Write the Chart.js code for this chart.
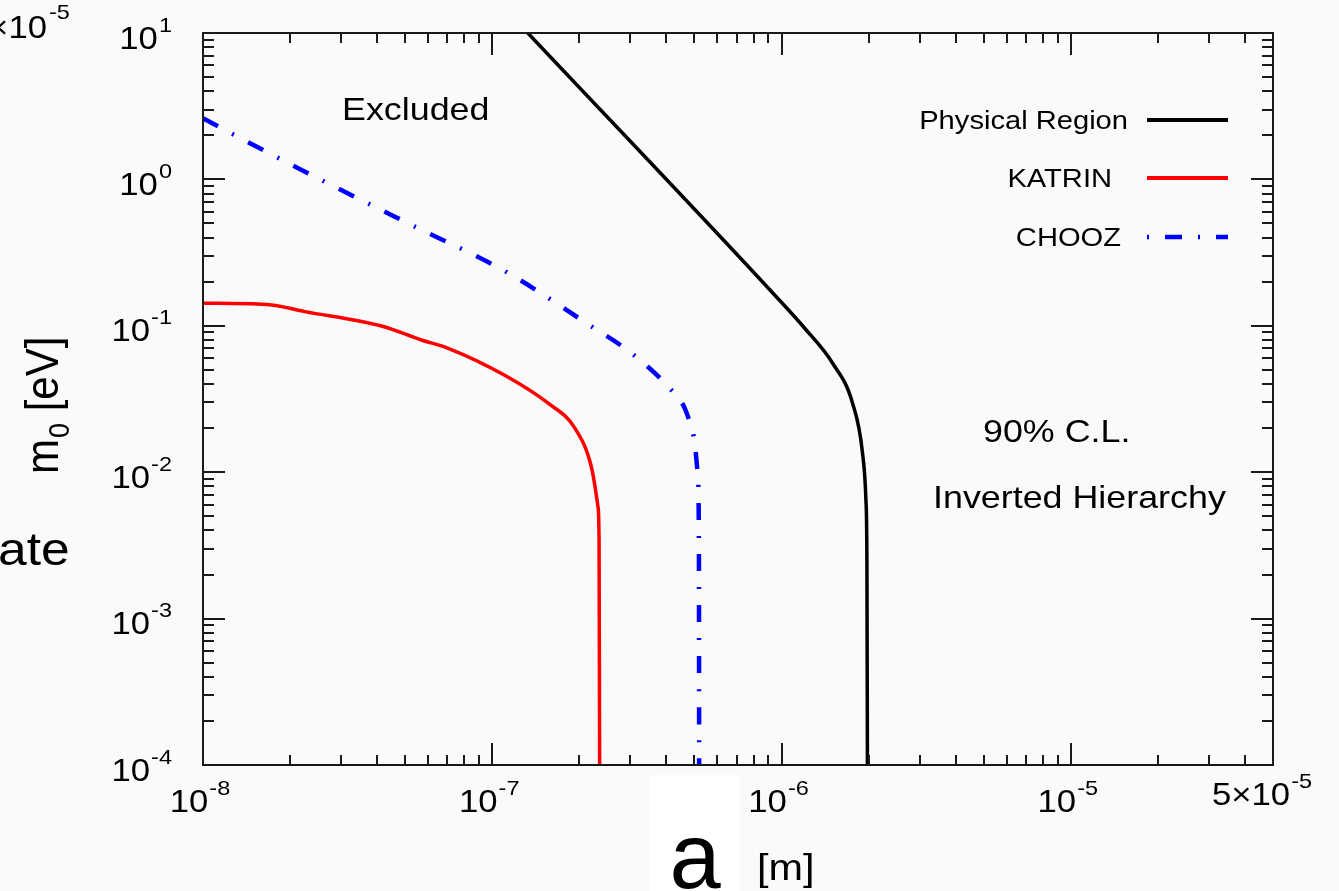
<!DOCTYPE html>
<html>
<head>
<meta charset="utf-8">
<script src="https://cdn.jsdelivr.net/npm/chart.js@4.4.1/dist/chart.umd.min.js"></script>
<style>
  html, body { margin: 0; padding: 0; background: #fafafa; }
  #wrap { position: relative; width: 1339px; height: 891px; overflow: hidden; }
</style>
</head>
<body>
<div id="wrap"><canvas id="limitChart" width="1339" height="891"></canvas></div>
<script>
// Physical region boundary (a [m], m0 [eV])
const physX = [1.327e-7, 9.535e-7, 1.20e-6, 1.50e-6, 1.759e-6, 1.905e-6, 1.9575e-6, 1.973e-6, 1.981e-6];
const physY = [10, 0.1598, 0.0966, 0.0557, 0.0297, 0.01352, 0.00646, 0.002514, 1e-4];

// KATRIN sensitivity
const katrinX = [1e-8, 1.66e-8, 2.25e-8, 4.14e-8, 5.69e-8, 7.04e-8, 1.10e-7, 1.56e-7, 1.93e-7, 2.20e-7, 2.32e-7, 2.34e-7, 2.35e-7];
const katrinY = [0.1425, 0.140, 0.125, 0.0997, 0.080, 0.0702, 0.0461, 0.0296, 0.0200, 0.0109, 0.0058, 0.00344, 1e-4];

// CHOOZ limit
const choozX = [1e-8, 1.22e-8, 2.54e-8, 5.26e-8, 1.09e-7, 2.17e-7, 3.03e-7, 4.16e-7, 4.63e-7, 4.94e-7, 5.14e-7, 5.18e-7, 5.19e-7];
const choozY = [2.62, 2.12, 1.0, 0.488, 0.240, 0.101, 0.0649, 0.0364, 0.0273, 0.01844, 0.0093, 0.00294, 1e-4];

// axis ticks
const xTickValues = [1e-8, 1e-7, 1e-6, 1e-5, 5e-5];
const xTickLabels = [['10', '-8'], ['10', '-7'], ['10', '-6'], ['10', '-5'], ['5\u00d710', '-5']];
const yTickValues = [1e1, 1e0, 1e-1, 1e-2, 1e-3, 1e-4];
const yTickLabels = [['10', '1'], ['10', '0'], ['10', '-1'], ['10', '-2'], ['10', '-3'], ['10', '-4']];

const seriesNames = ['Physical Region', 'KATRIN', 'CHOOZ'];
const seriesColors = ['#000000', '#ff0000', '#0000ff'];

const FONT = '"Liberation Sans", Arial, Helvetica, sans-serif';
const SX = 1.12; // the figure is stretched horizontally

function toPoints(xs, ys) {
    return xs.map((x, i) => ({ x: x, y: ys[i] }));
}

function measure(ctx, s, size) {
    ctx.save();
    ctx.font = size + 'px ' + FONT;
    const w = ctx.measureText(s).width * SX;
    ctx.restore();
    return w;
}

function text(ctx, s, x, y, size, align) {
    ctx.save();
    ctx.font = size + 'px ' + FONT;
    ctx.fillStyle = '#000';
    ctx.textAlign = align || 'left';
    ctx.textBaseline = 'alphabetic';
    ctx.translate(x, y);
    ctx.scale(SX, 1);
    ctx.fillText(s, 0, 0);
    ctx.restore();
}

// base + superscript, anchored by align at x
function powText(ctx, base, exp, x, y, align) {
    const wb = measure(ctx, base, 31);
    const we = measure(ctx, exp, 21);
    const total = wb + 1 + we;
    let x0 = x;
    if (align === 'center') x0 = x - total / 2;
    if (align === 'right') x0 = x - total;
    text(ctx, base, x0, y, 31, 'left');
    text(ctx, exp, x0 + wb + 1, y - 17, 21, 'left');
}

function minorValues(min, max) {
    const out = [];
    for (let e = Math.floor(Math.log10(min)); e <= Math.ceil(Math.log10(max)); e++) {
        for (let m = 1; m <= 9; m++) {
            const v = m * Math.pow(10, e);
            if (v >= min * 0.999 && v <= max * 1.001) out.push({ v: v, major: m === 1 });
        }
    }
    return out;
}

const framePlugin = {
    id: 'framePlugin',
    beforeDraw(chart) {
        const ctx = chart.ctx;
        ctx.save();
        ctx.fillStyle = '#fafafa';
        ctx.fillRect(0, 0, chart.width, chart.height);
        ctx.restore();
    },
    afterDraw(chart) {
        const ctx = chart.ctx;
        const a = chart.chartArea;
        const xs = chart.scales.x;
        const ys = chart.scales.y;

        // frame
        ctx.save();
        ctx.strokeStyle = '#1a1a1a';
        ctx.lineWidth = 2;
        ctx.strokeRect(a.left, a.top, a.right - a.left, a.bottom - a.top);

        // ticks on all four sides, pointing inward
        ctx.lineWidth = 2;
        ctx.beginPath();
        minorValues(1e-8, 5e-5).forEach(t => {
            const px = Math.round(xs.getPixelForValue(t.v));
            const len = t.major ? 22 : 10;
            ctx.moveTo(px, a.bottom); ctx.lineTo(px, a.bottom - len);
            ctx.moveTo(px, a.top); ctx.lineTo(px, a.top + len);
        });
        minorValues(1e-4, 1e1).forEach(t => {
            const py = Math.round(ys.getPixelForValue(t.v));
            const len = t.major ? 22 : 11;
            ctx.moveTo(a.left, py); ctx.lineTo(a.left + len, py);
            ctx.moveTo(a.right, py); ctx.lineTo(a.right - len, py);
        });
        ctx.stroke();
        ctx.restore();

        // tick labels
        xTickValues.forEach((v, i) => {
            const px = xs.getPixelForValue(v);
            const lab = xTickLabels[i];
            if (i === xTickValues.length - 1) {
                powText(ctx, lab[0], lab[1], px - 11, 805, 'center');
            } else {
                powText(ctx, lab[0], lab[1], px - 3, 812, 'center');
            }
        });
        yTickValues.forEach((v, i) => {
            const py = ys.getPixelForValue(v);
            powText(ctx, yTickLabels[i][0], yTickLabels[i][1], 172, py + 15.5, 'right');
        });

        // y axis title: m0 [eV]
        ctx.save();
        ctx.fillStyle = '#000';
        ctx.translate(58, 474);
        ctx.scale(SX, 1);
        ctx.rotate(-Math.PI / 2);
        ctx.textBaseline = 'alphabetic';
        ctx.font = '42px ' + FONT;
        ctx.fillText('m', 0, 0);
        let w = ctx.measureText('m').width;
        ctx.font = '27px ' + FONT;
        ctx.fillText('0', w + 1, 10);
        w += ctx.measureText('0').width + 1;
        ctx.font = '42px ' + FONT;
        ctx.fillText(' [eV]', w, 0);
        ctx.restore();

        // x axis title: white box with a large "a", then [m]
        ctx.save();
        ctx.fillStyle = '#ffffff';
        ctx.fillRect(650, 775, 90, 116);
        ctx.restore();
        ctx.save();
        ctx.fillStyle = '#000';
        ctx.font = '92px ' + FONT;
        ctx.textAlign = 'center';
        ctx.fillText('a', 695, 888);
        ctx.restore();
        text(ctx, '[m]', 757, 880, 37, 'left');

        // annotations
        text(ctx, 'Excluded', 342, 120, 32, 'left');
        text(ctx, '90% C.L.', 983, 442, 32, 'left');
        text(ctx, 'Inverted Hierarchy', 933, 508, 32, 'left');

        // stray text from the neighbouring panels
        text(ctx, 'ate', -2, 565, 46, 'left');
        const w10 = measure(ctx, '\u00d710', 31);
        text(ctx, '\u00d710', 47 - w10, 38, 31, 'left');
        text(ctx, '-5', 49, 19, 21, 'left');

        // legend
        const legRight = [1128, 1112, 1121];
        const legY = [120, 178, 237];
        seriesNames.forEach((name, i) => {
            text(ctx, name, legRight[i], legY[i] + 9, 26, 'right');
            ctx.save();
            ctx.strokeStyle = seriesColors[i];
            ctx.lineWidth = i === 2 ? 4.5 : 4;
            if (i === 2) {
                ctx.setLineDash([17, 16, 2, 16]);
                ctx.lineDashOffset = 33;
            }
            ctx.beginPath();
            ctx.moveTo(1147, legY[i]);
            ctx.lineTo(1228, legY[i]);
            ctx.stroke();
            ctx.restore();
        });
    }
};

const ctxEl = document.getElementById('limitChart');
new Chart(ctxEl, {
    type: 'scatter',
    data: {
        datasets: [
            {
                label: seriesNames[0],
                data: toPoints(physX, physY),
                showLine: true,
                borderColor: seriesColors[0],
                borderWidth: 3.5,
                pointRadius: 0,
                cubicInterpolationMode: 'monotone'
            },
            {
                label: seriesNames[1],
                data: toPoints(katrinX, katrinY),
                showLine: true,
                borderColor: seriesColors[1],
                borderWidth: 3.5,
                pointRadius: 0,
                cubicInterpolationMode: 'monotone'
            },
            {
                label: seriesNames[2],
                data: toPoints(choozX, choozY),
                showLine: true,
                borderColor: seriesColors[2],
                borderWidth: 4.5,
                borderDash: [17, 16, 2, 16],
                pointRadius: 0,
                cubicInterpolationMode: 'monotone'
            }
        ]
    },
    options: {
        responsive: false,
        animation: false,
        devicePixelRatio: 1,
        layout: { padding: { left: 203, right: 66, top: 33, bottom: 126 } },
        plugins: {
            legend: { display: false },
            tooltip: { enabled: false }
        },
        scales: {
            x: { type: 'logarithmic', min: 1e-8, max: 5e-5, display: false },
            y: { type: 'logarithmic', min: 1e-4, max: 1e1, display: false }
        }
    },
    plugins: [framePlugin]
});
</script>
</body>
</html>
